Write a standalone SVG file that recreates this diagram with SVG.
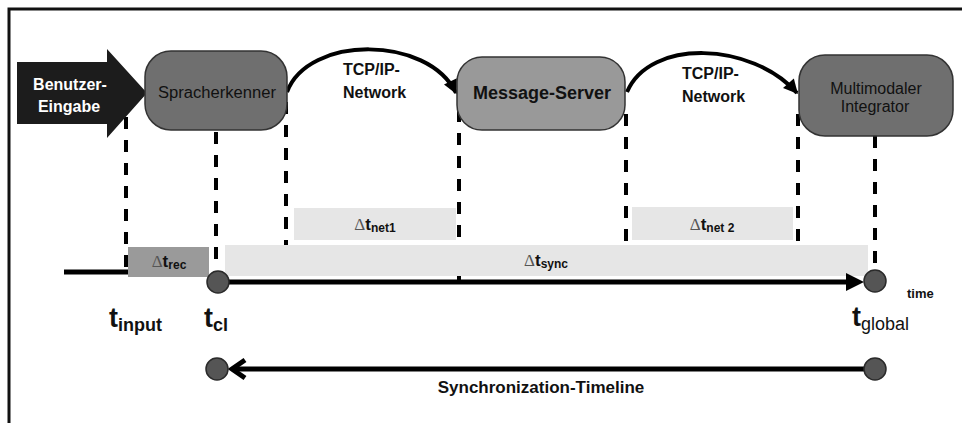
<svg xmlns="http://www.w3.org/2000/svg" width="962" height="423" viewBox="0 0 962 423">
  <style>
    .frame { fill: none; stroke: #111; stroke-width: 3; }
    .node { stroke: #333; stroke-width: 1.5; }
    .dark { fill: #6f6f6f; }
    .mid { fill: #999; }
    .lbl { font-family: "Liberation Sans", Arial, sans-serif; fill: #111; }
    .dash { stroke: #000; stroke-width: 4; stroke-dasharray: 12 11; fill: none; }
    .arc { stroke: #000; stroke-width: 4; fill: none; marker-end: url(#head); }
    .axis { stroke: #000; stroke-width: 5; fill: none; }
    .bar { fill: #e6e6e6; }
    .dot { fill: #555; stroke: #2a2a2a; stroke-width: 1.5; }
    .delta { font-family: "Liberation Serif", "Times New Roman", serif; fill: #555; font-weight: normal; }
  </style>
  <defs>
    <marker id="head" viewBox="0 0 10 10" refX="9" refY="5" markerWidth="4" markerHeight="3.6" orient="auto" markerUnits="strokeWidth">
      <path d="M0,0 L10,5 L0,10 Z" fill="#000"/>
    </marker>
  </defs>

  <!-- outer frame (left and top edges) -->
  <path class="frame" d="M9,423 V9 H962"/>

  <!-- vertical dashed guides -->
  <g id="guides">
    <line class="dash" x1="126" y1="117" x2="126" y2="272"/>
    <line class="dash" x1="216" y1="132" x2="216" y2="270"/>
    <line class="dash" x1="286" y1="102" x2="286" y2="281"/>
    <line class="dash" x1="459" y1="110" x2="459" y2="281"/>
    <line class="dash" x1="626" y1="114" x2="626" y2="246"/>
    <line class="dash" x1="798" y1="114" x2="798" y2="246"/>
    <line class="dash" x1="875" y1="136" x2="875" y2="270"/>
  </g>

  <!-- interval bars -->
  <g id="intervals">
    <g id="rec">
      <rect x="128" y="247" width="81" height="30" fill="#9a9a9a"/>
      <text class="lbl" x="169" y="267" text-anchor="middle" font-size="17"><tspan class="delta">Δ</tspan><tspan font-weight="bold">t</tspan><tspan font-size="12" font-weight="bold" dy="2">rec</tspan></text>
    </g>
    <g id="sync">
      <rect class="bar" x="225" y="245" width="643" height="31"/>
      <text class="lbl" x="546" y="266" text-anchor="middle" font-size="17"><tspan class="delta">Δ</tspan><tspan font-weight="bold">t</tspan><tspan font-size="12" font-weight="bold" dy="2">sync</tspan></text>
    </g>
    <g id="net1">
      <rect class="bar" x="294" y="208" width="162" height="32"/>
      <text class="lbl" x="375" y="230" text-anchor="middle" font-size="17"><tspan class="delta">Δ</tspan><tspan font-weight="bold">t</tspan><tspan font-size="12" font-weight="bold" dy="2">net1</tspan></text>
    </g>
    <g id="net2">
      <rect class="bar" x="632" y="207" width="161" height="33"/>
      <text class="lbl" x="712" y="230" text-anchor="middle" font-size="17"><tspan class="delta">Δ</tspan><tspan font-weight="bold">t</tspan><tspan font-size="12" font-weight="bold" dy="2">net 2</tspan></text>
    </g>
  </g>

  <!-- connectors -->
  <g id="connectors">
    <path class="arc" d="M287,92 C308,35 428,35 456,93"/>
    <path class="arc" d="M627,92 C650,38 752,42 797,93"/>
    <!-- time axis -->
    <line class="axis" x1="64" y1="272" x2="128" y2="272"/>
    <line class="axis" x1="228" y1="282" x2="850" y2="282"/>
    <path d="M846,273 L864,282 L846,291 Z" fill="#000"/>
    <!-- synchronization timeline -->
    <line class="axis" x1="234" y1="369" x2="866" y2="369"/>
    <polyline points="245,360 232,369 245,378" fill="none" stroke="#000" stroke-width="5"/>
  </g>

  <!-- input arrow -->
  <g id="input">
    <path d="M17,62 H107 V49 L147,93 L107,138 V124 H17 Z" fill="#1c1c1c"/>
    <text class="lbl" x="70" y="90" text-anchor="middle" font-size="16" font-weight="bold" style="fill:#fff">Benutzer-</text>
    <text class="lbl" x="69" y="112" text-anchor="middle" font-size="16" font-weight="bold" style="fill:#fff">Eingabe</text>
  </g>

  <!-- processing nodes -->
  <g id="recognizer">
    <rect class="node dark" x="145" y="51" width="142" height="79" rx="26"/>
    <text class="lbl" x="217" y="98" text-anchor="middle" font-size="16" textLength="118" lengthAdjust="spacingAndGlyphs">Spracherkenner</text>
  </g>
  <g id="server">
    <rect class="node mid" x="457" y="57" width="168" height="73" rx="25"/>
    <text class="lbl" x="542" y="99" text-anchor="middle" font-size="18" font-weight="bold">Message-Server</text>
  </g>
  <g id="integrator">
    <rect class="node dark" x="799" y="55" width="154" height="81" rx="26"/>
    <text class="lbl" x="876" y="94" text-anchor="middle" font-size="16">Multimodaler</text>
    <text class="lbl" x="875" y="112" text-anchor="middle" font-size="16">Integrator</text>
  </g>

  <!-- network labels -->
  <g id="net-labels">
    <text class="lbl" x="343" y="75" font-size="16" font-weight="bold">TCP/IP-</text>
    <text class="lbl" x="343" y="98" font-size="16" font-weight="bold">Network</text>
    <text class="lbl" x="682" y="79" font-size="16" font-weight="bold">TCP/IP-</text>
    <text class="lbl" x="682" y="102" font-size="16" font-weight="bold">Network</text>
  </g>

  <!-- time points -->
  <g id="points">
    <circle class="dot" cx="218" cy="282" r="11"/>
    <circle class="dot" cx="875" cy="281" r="11"/>
    <circle class="dot" cx="217" cy="369" r="11"/>
    <circle class="dot" cx="875" cy="369" r="11"/>
  </g>

  <!-- time labels -->
  <g id="time-labels">
    <text class="lbl" x="109" y="327" font-size="27" font-weight="bold">t<tspan font-size="18" dy="4">input</tspan></text>
    <text class="lbl" x="204" y="327" font-size="27" font-weight="bold">t<tspan font-size="18" dy="4">cl</tspan></text>
    <text class="lbl" x="852" y="326" font-size="27" font-weight="bold">t<tspan font-size="18" font-weight="normal" dy="4">global</tspan></text>
    <text class="lbl" x="907" y="298" font-size="13" font-weight="bold">time</text>
    <text class="lbl" x="541" y="393" text-anchor="middle" font-size="17" font-weight="bold">Synchronization-Timeline</text>
  </g>
</svg>
